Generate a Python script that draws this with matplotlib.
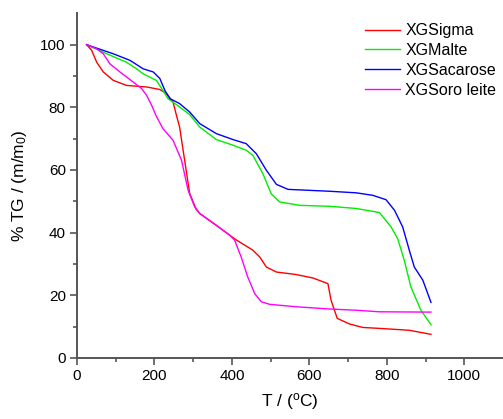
import matplotlib
matplotlib.use("Agg")
from matplotlib import pyplot as plt

plt.rcParams['font.family'] = ['Liberation Sans', 'DejaVu Sans']
plt.rcParams['mathtext.fontset'] = 'custom'
plt.rcParams['mathtext.rm'] = 'Liberation Sans'
plt.rcParams['mathtext.it'] = 'Liberation Sans:italic'

# XGSigma
sigma_T = [25, 38, 51, 68, 94, 128, 180, 214, 231, 248, 257, 265, 278, 291, 308, 317,
           360, 394, 412, 454, 472, 489, 515, 566, 609, 648, 656, 672, 704, 738, 781,
           858, 914]
sigma_m = [100, 98.2, 94.4, 91.3, 88.6, 87.0, 86.5, 85.7, 84.4, 81.7, 77.4, 73.7, 63.1,
           52.5, 47.4, 46.1, 42.3, 39.2, 37.6, 34.4, 32.2, 29.0, 27.4, 26.6, 25.5, 23.7,
           18.4, 12.6, 10.8, 9.7, 9.4, 8.8, 7.5]

# XGMalte
malte_T = [25, 77, 128, 154, 171, 205, 222, 235, 265, 291, 317, 360, 403, 437, 454,
           480, 502, 523, 575, 652, 721, 781, 811, 828, 845, 862, 888, 914]
malte_m = [100, 97.1, 94.4, 92.3, 90.7, 88.6, 85.4, 82.8, 80.1, 77.7, 73.7, 69.7, 67.9,
           66.3, 64.7, 58.8, 52.3, 49.8, 48.7, 48.4, 47.7, 46.4, 41.8, 38.1, 31.2, 22.7,
           15.2, 10.6]

# XGSacarose
sac_T = [25, 94, 137, 171, 197, 214, 227, 240, 265, 291, 317, 360, 403, 437, 463,
         489, 515, 545, 652, 721, 764, 798, 820, 841, 858, 871, 893, 914]
sac_m = [100, 97.1, 95.0, 92.3, 91.3, 89.2, 85.4, 82.8, 81.2, 78.5, 74.8, 71.6, 69.7,
         68.4, 65.2, 59.9, 55.4, 53.8, 53.2, 52.7, 51.9, 50.5, 47.1, 41.8, 34.4, 29.0,
         24.8, 17.7]

# XGSoro leite
soro_T = [25, 51, 68, 85, 111, 145, 167, 180, 193, 204, 222, 248, 270, 287, 304, 317,
          360, 394, 407, 424, 441, 459, 476, 497, 566, 652, 721, 781, 914]
soro_m = [100, 98.7, 97.1, 93.9, 91.3, 88.1, 86.0, 83.8, 80.6, 77.4, 73.2, 69.5, 63.1,
          53.5, 48.2, 46.1, 42.3, 39.2, 37.6, 32.2, 25.8, 20.5, 17.9, 17.1, 16.3, 15.6,
          15.2, 14.7, 14.6]

fig = plt.figure(figsize=(5.03, 4.19), dpi=100)
ax = fig.add_axes([0.153, 0.146, 0.847, 0.822])

ax.plot(sigma_T, sigma_m, color='#ff0000', lw=1.0, label='XGSigma')
ax.plot(malte_T, malte_m, color='#00ee00', lw=1.0, label='XGMalte')
ax.plot(sac_T, sac_m, color='#0000ff', lw=1.0, label='XGSacarose')
ax.plot(soro_T, soro_m, color='#ff00ff', lw=1.0, label='XGSoro leite')

ax.set_xlim(0, 1100)
ax.set_ylim(0, 110)
ax.set_xticks([0, 200, 400, 600, 800, 1000])
ax.set_xticks(range(100, 1100, 200), minor=True)
ax.set_yticks([0, 20, 40, 60, 80, 100])
ax.set_yticks(range(10, 110, 20), minor=True)

for s in ['top', 'right']:
    ax.spines[s].set_visible(False)
for s in ['left', 'bottom']:
    ax.spines[s].set_color('#555555')
    ax.spines[s].set_linewidth(1.4)
ax.tick_params(which='major', direction='out', length=5, width=1.2, color='#555555',
               labelsize=11, pad=3)
ax.tick_params(which='minor', direction='out', length=3, width=1.2, color='#555555')

ax.set_xlabel(r'T / ($^{\rm o}$C)', fontsize=12.5, labelpad=6)
ax.set_ylabel(r'% TG / (m/m$_{\rm 0}$)', fontsize=12.5, labelpad=8)

ax.legend(loc='upper left', bbox_to_anchor=(0.66, 0.99), frameon=False, fontsize=11.5,
          handlelength=2.2, handletextpad=0.35, labelspacing=0.3, borderaxespad=0)

fig.savefig('out.png', dpi=100)
